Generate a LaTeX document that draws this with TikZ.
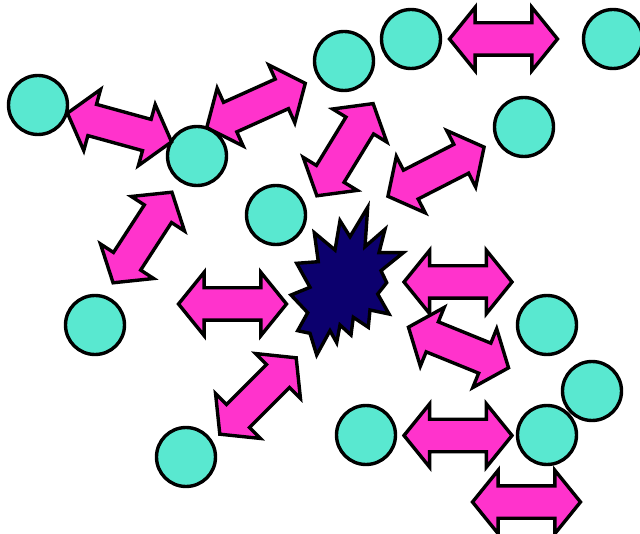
\documentclass[tikz,border=0pt]{standalone}
\usepackage{xcolor}
\usepackage{tikz}
\usetikzlibrary{shapes,arrows,positioning}
\definecolor{aqua}{RGB}{89,232,208}
\definecolor{hotpink}{RGB}{255,51,204}
\definecolor{navyblue}{RGB}{12,0,110}

\begin{document}
\begin{tikzpicture}[
    x=1pt, y=-1pt,
    ball/.style={circle, draw, fill=aqua, line width=3.4pt, minimum size=59pt, inner sep=0pt},
    dbl/.style={double arrow, draw, fill=hotpink, line width=3.4pt, minimum height=108pt, minimum width=60pt, double arrow head extend=15.5pt, double arrow tip angle=102, inner xsep=0pt, inner ysep=14.5pt},
    burst/.style={draw, fill=navyblue, line width=3.4pt, line join=miter}
]
\useasboundingbox (0,0) rectangle (640,534);
% ----- balls -----
\node[ball] (b1)  at (38,105)  {};
\node[ball] (b2)  at (197,156) {};
\node[ball] (b3)  at (344,61)  {};
\node[ball] (b4)  at (411,39)  {};
\node[ball] (b5)  at (613,39)  {};
\node[ball] (b6)  at (524,127) {};
\node[ball] (b7)  at (276,215) {};
\node[ball] (b8)  at (95,325)  {};
\node[ball] (b9)  at (186,457) {};
\node[ball] (b10) at (547,325) {};
\node[ball] (b11) at (592,391) {};
\node[ball] (b12) at (547,435) {};
\node[ball] (b13) at (366,435) {};
% ----- double arrows -----
\node[dbl] (a1)  at (503.5,39)    {};
\node[dbl] (a2)  at (232.5,304)   {};
\node[dbl] (a3)  at (458,282)     {};
\node[dbl] (a4)  at (458,435.5)   {};
\node[dbl] (a5)  at (526.5,502)   {};
\node[dbl, rotate=-15.4] (a6)  at (119.5,127.5) {};
\node[dbl, rotate=24.2]  (a7)  at (256,105.5)   {};
\node[dbl, rotate=58.6]  (a8)  at (345,149.7)   {};
\node[dbl, rotate=27.1]  (a9)  at (436,171.7)   {};
\node[dbl, rotate=57]    (a10) at (142.5,237.5) {};
\node[dbl, rotate=45]    (a11) at (258,396)     {};
\node[dbl, rotate=-22.1] (a12) at (458.5,347.5) {};
% ----- burst -----
\draw[burst] (367.7,207.3) -- (365,246.7) -- (385,229.3) -- (379,252.7) -- (403.3,252.7)
  -- (381,270.7) -- (386.7,282.7) -- (377.7,294) -- (389,314) -- (370,310)
  -- (368.3,327.3) -- (353.3,317.3) -- (351,335) -- (340,325) -- (336.7,342.7)
  -- (330,330.7) -- (316.7,355) -- (310,333.3) -- (297.7,330.7) -- (307.7,312.7)
  -- (291,295) -- (310,287.3) -- (296.7,263.3) -- (318.3,261.7) -- (314.3,232.7)
  -- (335,250) -- (340,220.7) -- (350,236.7) -- cycle;
\end{tikzpicture}
\end{document}
